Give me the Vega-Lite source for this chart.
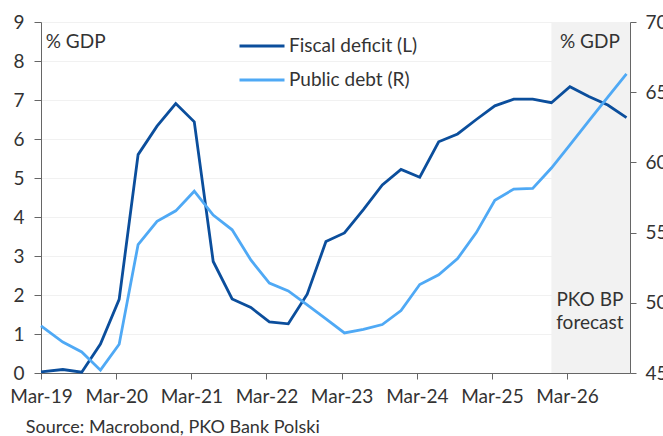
{
  "$schema": "https://vega.github.io/schema/vega-lite/v6.json",
  "width": 589,
  "height": 351,
  "autosize": {"type": "none"},
  "padding": {"left": 41, "top": 22, "right": 33, "bottom": 63},
  "background": "white",
  "config": {
    "font": "Lato",
    "view": {"stroke": null},
    "axis": {"labelFont": "Lato", "labelFontSize": 19, "labelColor": "#333333", "domainColor": "#666666", "tickColor": "#666666", "title": null}
  },
  "title": {
    "text": "Source: Macrobond, PKO Bank Polski",
    "orient": "bottom",
    "anchor": "start",
    "fontSize": 18,
    "fontWeight": "normal",
    "color": "#333333",
    "font": "Lato",
    "dx": 16,
    "offset": 13
  },
  "data": {
    "values": [
      {"date": "2019-03-01", "deficit": 0.03, "debt": 48.35},
      {"date": "2019-06-15", "deficit": 0.09, "debt": 47.2},
      {"date": "2019-09-15", "deficit": 0.02, "debt": 46.5},
      {"date": "2019-12-15", "deficit": 0.74, "debt": 45.2},
      {"date": "2020-03-15", "deficit": 1.89, "debt": 47.05},
      {"date": "2020-06-15", "deficit": 5.6, "debt": 54.15},
      {"date": "2020-09-15", "deficit": 6.33, "debt": 55.8},
      {"date": "2020-12-15", "deficit": 6.91, "debt": 56.55},
      {"date": "2021-03-15", "deficit": 6.44, "debt": 57.95},
      {"date": "2021-06-15", "deficit": 2.86, "debt": 56.25},
      {"date": "2021-09-15", "deficit": 1.9, "debt": 55.2},
      {"date": "2021-12-15", "deficit": 1.68, "debt": 53.05},
      {"date": "2022-03-15", "deficit": 1.31, "debt": 51.4},
      {"date": "2022-06-15", "deficit": 1.26, "debt": 50.85},
      {"date": "2022-09-15", "deficit": 2.02, "debt": 49.85},
      {"date": "2022-12-15", "deficit": 3.37, "debt": 48.85},
      {"date": "2023-03-15", "deficit": 3.59, "debt": 47.85},
      {"date": "2023-06-15", "deficit": 4.19, "debt": 48.1},
      {"date": "2023-09-15", "deficit": 4.82, "debt": 48.45},
      {"date": "2023-12-15", "deficit": 5.22, "debt": 49.45},
      {"date": "2024-03-15", "deficit": 5.02, "debt": 51.3},
      {"date": "2024-06-15", "deficit": 5.93, "debt": 52.0},
      {"date": "2024-09-15", "deficit": 6.13, "debt": 53.15},
      {"date": "2024-12-15", "deficit": 6.5, "debt": 55.0},
      {"date": "2025-03-15", "deficit": 6.85, "debt": 57.3},
      {"date": "2025-06-15", "deficit": 7.02, "debt": 58.1},
      {"date": "2025-09-15", "deficit": 7.02, "debt": 58.15},
      {"date": "2025-12-15", "deficit": 6.93, "debt": 59.6},
      {"date": "2026-03-15", "deficit": 7.34, "debt": 61.25},
      {"date": "2026-06-15", "deficit": 7.09, "debt": 62.95},
      {"date": "2026-09-15", "deficit": 6.87, "debt": 64.65},
      {"date": "2026-12-15", "deficit": 6.55, "debt": 66.3}
    ]
  },
  "layer": [
    {
      "layer": [
        {
          "data": {"values": [{"phase": "forecast"}]},
          "mark": {"type": "rect", "color": "#f2f2f2"},
          "encoding": {
            "x": {"datum": {"year": 2025, "month": 12, "date": 15, "utc": true}, "type": "temporal"},
            "x2": {"datum": {"year": 2027, "month": 1, "date": 1, "utc": true}}
          }
        },
        {
          "mark": {"type": "line", "strokeWidth": 2.8, "strokeJoin": "miter"},
          "encoding": {
            "x": {
              "field": "date",
              "type": "temporal",
              "scale": {
                "type": "utc",
                "domain": [
                  {"year": 2019, "month": 3, "date": 1, "utc": true},
                  {"year": 2027, "month": 1, "date": 1, "utc": true}
                ]
              },
              "axis": {
                "values": [
                  {"year": 2019, "month": 3, "date": 1, "utc": true},
                  {"year": 2020, "month": 3, "date": 1, "utc": true},
                  {"year": 2021, "month": 3, "date": 1, "utc": true},
                  {"year": 2022, "month": 3, "date": 1, "utc": true},
                  {"year": 2023, "month": 3, "date": 1, "utc": true},
                  {"year": 2024, "month": 3, "date": 1, "utc": true},
                  {"year": 2025, "month": 3, "date": 1, "utc": true},
                  {"year": 2026, "month": 3, "date": 1, "utc": true}
                ],
                "format": "%b-%y",
                "grid": false,
                "tickSize": 6,
                "labelPadding": 8,
                "labelFlush": false,
                "labelOverlap": false,
                "title": null
              }
            },
            "y": {
              "field": "deficit",
              "type": "quantitative",
              "scale": {"domain": [0, 9], "nice": false, "zero": false},
              "axis": {
                "orient": "left",
                "values": [0, 1, 2, 3, 4, 5, 6, 7, 8, 9],
                "grid": true,
                "gridColor": "#f1f1f1",
                "gridWidth": 1,
                "tickSize": 7,
                "labelPadding": 10,
                "labelFlush": false,
                "labelOverlap": false,
                "title": null
              }
            },
            "color": {
              "datum": "Fiscal deficit (L)",
              "type": "nominal",
              "scale": {"domain": ["Fiscal deficit (L)", "Public debt (R)"], "range": ["#0b4e9c", "#4fa9f5"]},
              "legend": {
                "title": null,
                "orient": "none",
                "legendX": 197,
                "legendY": 0,
                "symbolType": "stroke",
                "symbolSize": 2025,
                "symbolStrokeWidth": 3,
                "labelFontSize": 19,
                "labelFont": "Lato",
                "labelColor": "#333333",
                "labelOffset": 3,
                "rowPadding": -10
              }
            }
          }
        },
        {
          "data": {"values": [{"label": "% GDP"}]},
          "mark": {"type": "text", "align": "left", "baseline": "middle", "fontSize": 19, "color": "#333333"},
          "encoding": {
            "x": {"datum": {"year": 2019, "month": 3, "date": 24, "utc": true}, "type": "temporal"},
            "y": {"datum": 8.48, "type": "quantitative", "axis": {"orient": "left", "values": [0, 1, 2, 3, 4, 5, 6, 7, 8, 9], "grid": true, "gridColor": "#f1f1f1", "tickSize": 7, "labelPadding": 10, "labelFlush": false, "labelOverlap": false, "title": null}},
            "text": {"field": "label"}
          }
        },
        {
          "data": {"values": [{"label": "% GDP"}]},
          "mark": {"type": "text", "align": "center", "baseline": "middle", "fontSize": 19, "color": "#333333"},
          "encoding": {
            "x": {"datum": {"year": 2026, "month": 6, "date": 20, "utc": true}, "type": "temporal"},
            "y": {"datum": 8.48, "type": "quantitative", "axis": {"orient": "left", "values": [0, 1, 2, 3, 4, 5, 6, 7, 8, 9], "grid": true, "gridColor": "#f1f1f1", "tickSize": 7, "labelPadding": 10, "labelFlush": false, "labelOverlap": false, "title": null}},
            "text": {"field": "label"}
          }
        },
        {
          "data": {"values": [{"label": "PKO BP"}]},
          "mark": {"type": "text", "align": "center", "baseline": "middle", "fontSize": 19, "color": "#333333"},
          "encoding": {
            "x": {"datum": {"year": 2026, "month": 6, "date": 20, "utc": true}, "type": "temporal"},
            "y": {"datum": 1.87, "type": "quantitative", "axis": {"orient": "left", "values": [0, 1, 2, 3, 4, 5, 6, 7, 8, 9], "grid": true, "gridColor": "#f1f1f1", "tickSize": 7, "labelPadding": 10, "labelFlush": false, "labelOverlap": false, "title": null}},
            "text": {"field": "label"}
          }
        },
        {
          "data": {"values": [{"label": "forecast"}]},
          "mark": {"type": "text", "align": "center", "baseline": "middle", "fontSize": 19, "color": "#333333"},
          "encoding": {
            "x": {"datum": {"year": 2026, "month": 6, "date": 20, "utc": true}, "type": "temporal"},
            "y": {"datum": 1.28, "type": "quantitative", "axis": {"orient": "left", "values": [0, 1, 2, 3, 4, 5, 6, 7, 8, 9], "grid": true, "gridColor": "#f1f1f1", "tickSize": 7, "labelPadding": 10, "labelFlush": false, "labelOverlap": false, "title": null}},
            "text": {"field": "label"}
          }
        }
      ]
    },
    {
      "mark": {"type": "line", "strokeWidth": 2.8, "strokeJoin": "miter"},
      "encoding": {
        "x": {"field": "date", "type": "temporal"},
        "y": {
          "field": "debt",
          "type": "quantitative",
          "scale": {"domain": [45, 70], "nice": false, "zero": false},
          "axis": {
            "orient": "right",
            "values": [45, 50, 55, 60, 65, 70],
            "grid": false,
            "tickSize": 6,
            "labelPadding": 9,
            "labelFlush": false,
            "labelOverlap": false,
            "title": null
          }
        },
        "color": {"datum": "Public debt (R)", "type": "nominal"}
      }
    }
  ],
  "resolve": {"scale": {"y": "independent"}}
}
